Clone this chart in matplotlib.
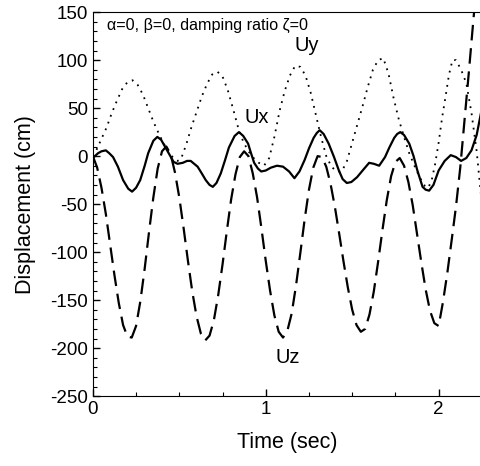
import numpy as np
import matplotlib.pyplot as plt
from matplotlib.ticker import MultipleLocator

plt.rcParams['font.family'] = ['Liberation Sans', 'DejaVu Sans']
plt.rcParams['axes.unicode_minus'] = False

# Ux (solid)
t_ux = [0.0, 0.03, 0.05, 0.075, 0.095, 0.117, 0.145, 0.175, 0.205, 0.227, 0.25,
        0.274, 0.3, 0.32, 0.35, 0.373, 0.395, 0.42, 0.445, 0.467, 0.49,
        0.52, 0.545, 0.566, 0.606, 0.63, 0.653, 0.675, 0.694, 0.715, 0.74,
        0.765, 0.787, 0.82, 0.845, 0.87, 0.898, 0.915, 0.933, 0.955, 0.974,
        1.0, 1.03, 1.065, 1.10, 1.135, 1.166, 1.195, 1.225, 1.25, 1.277,
        1.295, 1.312, 1.335, 1.364, 1.395, 1.423, 1.445, 1.469, 1.495,
        1.528, 1.565, 1.598, 1.625, 1.656, 1.69, 1.715, 1.743, 1.76, 1.778,
        1.80, 1.83, 1.855, 1.877, 1.907, 1.925, 1.945, 1.97, 2.0, 2.035,
        2.07, 2.1, 2.13, 2.16, 2.19, 2.22, 2.245]
ux = [-2, 3, 5, 6, 3, -1, -11, -25, -34, -37, -33,
      -25, -10, 3, 16, 20, 17, 9, 1, -6, -8,
      -7, -5, -5, -11, -18, -25, -30, -32, -28, -18,
      -4, 9, 21, 25, 21, 13, 3, -7, -13, -16,
      -15, -12, -10, -11, -16, -23, -16, -4, 8, 19,
      24, 27, 23, 13, -1, -15, -24, -28, -27,
      -22, -14, -7, -8, -10, -1, 9, 19, 23, 25,
      22, 13, 0, -15, -32, -35, -36, -30, -15, -5,
      1, -1, -5, -2, 6, 22, 45]

# Uy (dotted)
t_uy = [0.0, 0.02, 0.05, 0.08, 0.11, 0.14, 0.17, 0.2, 0.23, 0.26, 0.29, 0.32,
        0.35, 0.38, 0.41, 0.44, 0.47, 0.49, 0.51, 0.54, 0.57, 0.6, 0.63, 0.66,
        0.69, 0.72, 0.75, 0.78, 0.81, 0.84, 0.87, 0.9, 0.93, 0.96, 0.99, 1.02,
        1.05, 1.08, 1.11, 1.14, 1.17, 1.2, 1.23, 1.26, 1.29, 1.32, 1.35, 1.38,
        1.41, 1.44, 1.47, 1.5, 1.53, 1.56, 1.59, 1.62, 1.65, 1.68, 1.71, 1.74,
        1.77, 1.8, 1.83, 1.86, 1.89, 1.92, 1.94, 1.96, 1.98, 2.0, 2.02, 2.04,
        2.06, 2.08, 2.1, 2.13, 2.16, 2.19, 2.22, 2.25]
uy = [0, 6, 18, 30, 45, 58, 70, 77, 79, 74, 64, 50,
      36, 24, 13, 4, -3, -5, -3, 12, 30, 46, 62, 75,
      85, 88, 83, 69, 50, 30, 15, 5, -2, -7, -10, -2,
      20, 47, 68, 84, 94, 93, 84, 66, 43, 20, 0, -11,
      -16, -16, -5, 14, 33, 52, 72, 90, 100, 102, 86, 60,
      38, 20, 3, -10, -22, -31, -33, -25, -8, 14, 40, 62,
      85, 100, 100, 90, 76, 45, 5, -50]

# Uz (dashed)
t_uz = [0.0, 0.025, 0.05, 0.075, 0.1, 0.125, 0.15, 0.175, 0.2, 0.225, 0.25,
        0.275, 0.3, 0.325, 0.35, 0.375, 0.4, 0.425, 0.45, 0.475, 0.5, 0.525,
        0.55, 0.575, 0.6, 0.625, 0.65, 0.675, 0.7, 0.725, 0.75, 0.775, 0.8,
        0.825, 0.85, 0.875, 0.9, 0.925, 0.95, 0.975, 1.0, 1.025, 1.05, 1.075,
        1.1, 1.125, 1.15, 1.175, 1.2, 1.225, 1.25, 1.275, 1.3, 1.325, 1.35,
        1.375, 1.4, 1.425, 1.45, 1.475, 1.5, 1.525, 1.55, 1.575, 1.6, 1.625,
        1.65, 1.675, 1.7, 1.725, 1.75, 1.775, 1.8, 1.825, 1.85, 1.875, 1.9,
        1.925, 1.95, 1.975, 2.0, 2.025, 2.05, 2.075, 2.1, 2.125, 2.15, 2.175,
        2.2, 2.225, 2.25]
uz = [0, -12, -33, -60, -92, -124, -153, -176, -188, -189, -177,
      -151, -117, -79, -43, -13, 5, 10, 2, -17, -43, -75,
      -109, -141, -167, -185, -192, -187, -171, -145, -113, -78, -45,
      -19, -1, 5, 0, -18, -43, -75, -109, -140, -166, -183,
      -189, -182, -164, -135, -101, -66, -35, -12, 0, -1, -11,
      -29, -53, -81, -110, -137, -160, -176, -183, -180, -165, -141,
      -110, -77, -46, -21, -6, -2, -10, -27, -51, -81, -111,
      -139, -161, -174, -177, -152, -122, -88, -53, -12, 38, 88,
      140, 190, 240]

fig = plt.figure(figsize=(4.81, 4.66), dpi=100)
ax = fig.add_axes([0.193, 0.150, 0.807, 0.824])

ax.plot(t_ux, ux, color='black', lw=1.6, ls='-')
ax.plot(t_uy, uy, color='black', lw=1.3, ls=(0, (1, 3)))
ax.plot(t_uz, uz, color='black', lw=1.6, ls=(0, (7, 3.5)))

ax.set_xlim(0, 2.245)
ax.set_ylim(-250, 150)
ax.xaxis.set_major_locator(MultipleLocator(1))
ax.xaxis.set_minor_locator(MultipleLocator(0.25))
ax.yaxis.set_major_locator(MultipleLocator(50))
ax.yaxis.set_minor_locator(MultipleLocator(10))
ax.tick_params(which='both', direction='in', top=False, right=False, labelsize=13.5)
ax.tick_params(which='major', length=5, width=1)
ax.tick_params(which='minor', length=3, width=0.8)
ax.spines['right'].set_visible(False)

ax.set_xlabel('Time (sec)', fontsize=15.5, labelpad=10)
ax.set_ylabel('Displacement (cm)', fontsize=15.5, labelpad=10)

ax.text(0.08, 136, 'α=0, β=0, damping ratio ζ=0', fontsize=11.6, va='center')
ax.text(1.24, 115, 'Uy', fontsize=14.5, ha='center', va='center')
ax.text(0.95, 40, 'Ux', fontsize=14.5, ha='center', va='center')
ax.text(1.13, -210, 'Uz', fontsize=14.5, ha='center', va='center')

fig.savefig('out.png', dpi=100)
